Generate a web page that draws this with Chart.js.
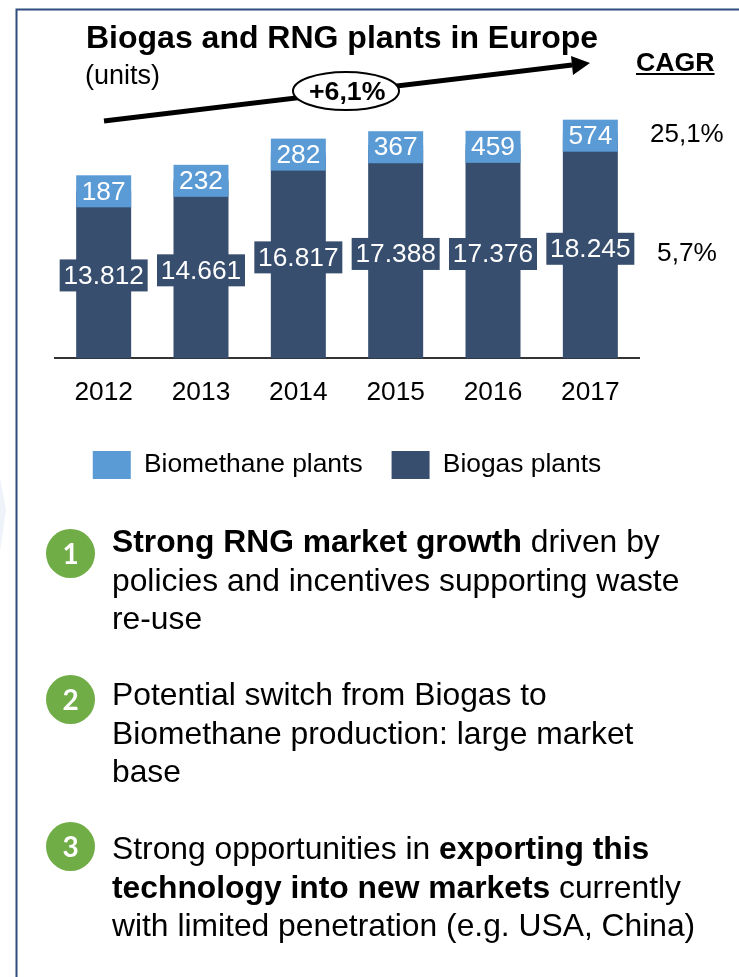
<!DOCTYPE html>
<html>
<head>
<meta charset="utf-8">
<title>Biogas and RNG plants in Europe</title>
<script src="https://cdn.jsdelivr.net/npm/chart.js@4"></script>
<style>
  html, body { margin: 0; padding: 0; background: #fff; }
  body { width: 739px; height: 977px; position: relative; overflow: hidden; font-family: "Liberation Sans", Arial, sans-serif; color: #000; }
  #plants { position: absolute; left: 0; top: 0; }
  .txt { position: absolute; white-space: nowrap; line-height: 1; }
  .line { position: absolute; left: 112px; white-space: nowrap; font-size: 31.8px; line-height: 1; }
  .dot { position: absolute; left: 46px; width: 49px; height: 49px; border-radius: 50%; background: #70ad47; color: #fff; font: bold 28px/49px Lato, sans-serif; text-align: center; }
  #deco { position: absolute; left: 0; top: 0; }
</style>
</head>
<body>
<canvas id="plants" width="739" height="500"></canvas>

<svg id="deco" width="739" height="977">
  <polygon points="0,478 6,510 0,552" fill="#eef3fa"/>
  <path d="M739 9.5 H16.5 V977" fill="none" stroke="#2f4d7e" stroke-width="2"/>
  <line x1="104" y1="121" x2="572" y2="65" stroke="#000" stroke-width="5"/>
  <polygon points="590,63 571,56 573,75" fill="#000"/>
  <ellipse cx="346" cy="91" rx="53" ry="19" fill="#fff" stroke="#000" stroke-width="2"/>
</svg>

<div class="txt" style="left:86px;top:21px;font-size:32px;font-weight:bold">Biogas and RNG plants in Europe</div>
<div class="txt" style="left:85px;top:62px;font-size:27px">(units)</div>
<div class="txt" style="left:309px;top:78px;font-size:26.7px;font-weight:bold">+6,1%</div>
<div class="txt" style="left:636px;top:49px;font-size:26.7px;font-weight:bold;text-decoration:underline">CAGR</div>
<div class="txt" id="cagrTop" style="left:650px;top:120px;font-size:26px"></div>
<div class="txt" id="cagrBottom" style="left:657px;top:239px;font-size:26.3px"></div>

<div class="dot" style="top:529px">1</div>
<div class="line" style="top:526px"><b>Strong RNG market growth</b> driven by</div>
<div class="line" style="top:565px">policies and incentives supporting waste</div>
<div class="line" style="top:603px">re-use</div>

<div class="dot" style="top:675px">2</div>
<div class="line" style="top:679px">Potential switch from Biogas to</div>
<div class="line" style="top:718px">Biomethane production: large market</div>
<div class="line" style="top:756px">base</div>

<div class="dot" style="top:822px">3</div>
<div class="line" style="top:833px">Strong opportunities in <b>exporting this</b></div>
<div class="line" style="top:872px"><b>technology into new markets</b> currently</div>
<div class="line" style="top:910px">with limited penetration (e.g. USA, China)</div>

<script>
const years = ["2012", "2013", "2014", "2015", "2016", "2017"];
const biogasPlants = [13812, 14661, 16817, 17388, 17376, 18245];
const biomethanePlants = [187, 232, 282, 367, 459, 574];
const cagrBiomethane = "25,1%";
const cagrBiogas = "5,7%";

const darkBlue = "#374e6e";
const lightBlue = "#5b9bd5";

document.getElementById("cagrTop").textContent = cagrBiomethane;
document.getElementById("cagrBottom").textContent = cagrBiogas;

// thousands with a dot, 13812 -> 13.812
function fmt(n) {
  return String(n).replace(/\B(?=(\d{3})+$)/g, ".");
}

// boxed value labels sitting in the middle of each bar segment
const boxLabels = {
  id: "boxLabels",
  afterDatasetsDraw(chart) {
    const ctx = chart.ctx;
    ctx.save();
    ctx.font = "26.3px 'Liberation Sans'";
    ctx.textAlign = "center";
    ctx.textBaseline = "middle";
    chart.data.datasets.forEach((ds, d) => {
      const w = d === 0 ? 88 : 55;
      chart.getDatasetMeta(d).data.forEach((bar, i) => {
        const mid = (bar.y + bar.base) / 2;
        ctx.fillStyle = ds.backgroundColor;
        ctx.fillRect(bar.x - w / 2, mid - 16, w, 32);
        ctx.fillStyle = "#fff";
        ctx.fillText(fmt(ds.data[i]), bar.x, mid + 1);
      });
    });
    ctx.restore();
  }
};

new Chart(document.getElementById("plants"), {
  type: "bar",
  data: {
    labels: years,
    datasets: [
      { label: "Biogas plants", data: biogasPlants, backgroundColor: darkBlue },
      { label: "Biomethane plants", data: biomethanePlants, backgroundColor: lightBlue }
    ]
  },
  options: {
    responsive: false,
    animation: false,
    layout: { padding: { left: 55, right: 100, top: 94, bottom: 11 } },
    datasets: { bar: { categoryPercentage: 1, barPercentage: 0.565 } },
    plugins: {
      tooltip: { enabled: false },
      title: { display: false },
      legend: {
        position: "bottom",
        reverse: true,
        labels: {
          boxWidth: 38,
          boxHeight: 28,
          padding: 29,
          color: "#000",
          font: { family: "Liberation Sans", size: 26.4 }
        }
      }
    },
    scales: {
      x: {
        stacked: true,
        grid: { display: false, drawTicks: false },
        border: { color: "#333", width: 2 },
        ticks: { color: "#000", padding: 19, font: { family: "Liberation Sans", size: 26.3 } },
        // legend sits closer to the year labels than the default fit allows
        afterFit(scale) { scale.height -= 6; }
      },
      y: {
        stacked: true,
        display: false,
        min: 0,
        max: 22000
      }
    }
  },
  plugins: [boxLabels]
});
</script>
</body>
</html>
